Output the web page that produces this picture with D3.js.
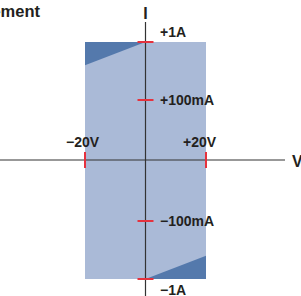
<!DOCTYPE html>
<html>
<head>
<meta charset="utf-8">
<script src="https://cdn.jsdelivr.net/npm/d3@7"></script>
<style>
  body { margin: 0; background: #fff; }
  text { font-family: "Liberation Sans", Arial, sans-serif; font-weight: bold; fill: #231f20; }
</style>
</head>
<body>
<svg id="chart"></svg>
<script>
var width = 301;
var height = 296;

// operating area (volts, amps)
var areaV = [-20, 20];
var areaI = [-1, 1];
// darker corner regions
var cornerTop = [[-20, 1], [0, 1], [-20, 0.64]];
var cornerBottom = [[0, -1], [20, -1], [20, -0.64]];

var voltTicks = [-20, 20];
var voltLabels = ["\u221220V", "+20V"];
var currTicks = [1, 0.1, -0.1, -1];
var currLabels = ["+1A", "+100mA", "\u2212100mA", "\u22121A"];

var x = d3.scaleLinear().domain([-20, 20]).range([85, 206]);
// current axis is log-like, piecewise
var y = d3.scaleLinear()
  .domain([-1, -0.1, 0, 0.1, 1])
  .range([279, 221, 160, 100, 42]);

var svg = d3.select("#chart")
  .attr("width", width)
  .attr("height", height);

svg.append("text")
  .attr("x", 40)
  .attr("y", 17)
  .attr("text-anchor", "end")
  .style("font-size", "16.5px")
  .text("Measurement");

svg.append("rect")
  .attr("x", x(areaV[0]))
  .attr("y", y(areaI[1]))
  .attr("width", x(areaV[1]) - x(areaV[0]))
  .attr("height", y(areaI[0]) - y(areaI[1]))
  .attr("fill", "#aabad7");

var line = d3.line().x(function(d) { return x(d[0]); }).y(function(d) { return y(d[1]); });

[cornerTop, cornerBottom].forEach(function(c) {
  svg.append("path")
    .attr("d", line(c) + "Z")
    .attr("fill", "#5479ac");
});

// axes
svg.append("line")
  .attr("x1", 0).attr("x2", 285)
  .attr("y1", y(0)).attr("y2", y(0))
  .attr("stroke", "#333").attr("stroke-width", 1.2);

svg.append("line")
  .attr("x1", x(0)).attr("x2", x(0))
  .attr("y1", 22).attr("y2", height)
  .attr("stroke", "#333").attr("stroke-width", 1.2);

svg.append("text")
  .attr("x", 292).attr("y", 167)
  .style("font-size", "16px")
  .text("V");

svg.append("text")
  .attr("x", x(0)).attr("y", 19)
  .attr("text-anchor", "middle")
  .style("font-size", "16px")
  .text("I");

// red ticks
svg.selectAll(".vtick")
  .data(voltTicks)
  .enter().append("line")
  .attr("x1", function(d) { return x(d); })
  .attr("x2", function(d) { return x(d); })
  .attr("y1", y(0) - 8).attr("y2", y(0) + 8)
  .attr("stroke", "#e5323e").attr("stroke-width", 2);

svg.selectAll(".ctick")
  .data(currTicks)
  .enter().append("line")
  .attr("x1", x(0) - 8).attr("x2", x(0) + 8)
  .attr("y1", function(d) { return y(d); })
  .attr("y2", function(d) { return y(d); })
  .attr("stroke", "#e5323e").attr("stroke-width", 2);

svg.selectAll(".vlabel")
  .data(voltTicks)
  .enter().append("text")
  .attr("x", function(d, i) { return i === 0 ? x(d) - 19 : x(d) - 23; })
  .attr("y", 147)
  .style("font-size", "14px")
  .text(function(d, i) { return voltLabels[i]; });

var labelDy = [-5, 5, 5, 16];
svg.selectAll(".clabel")
  .data(currTicks)
  .enter().append("text")
  .attr("x", 160)
  .attr("y", function(d, i) { return y(d) + labelDy[i]; })
  .style("font-size", "14px")
  .text(function(d, i) { return currLabels[i]; });
</script>
</body>
</html>
